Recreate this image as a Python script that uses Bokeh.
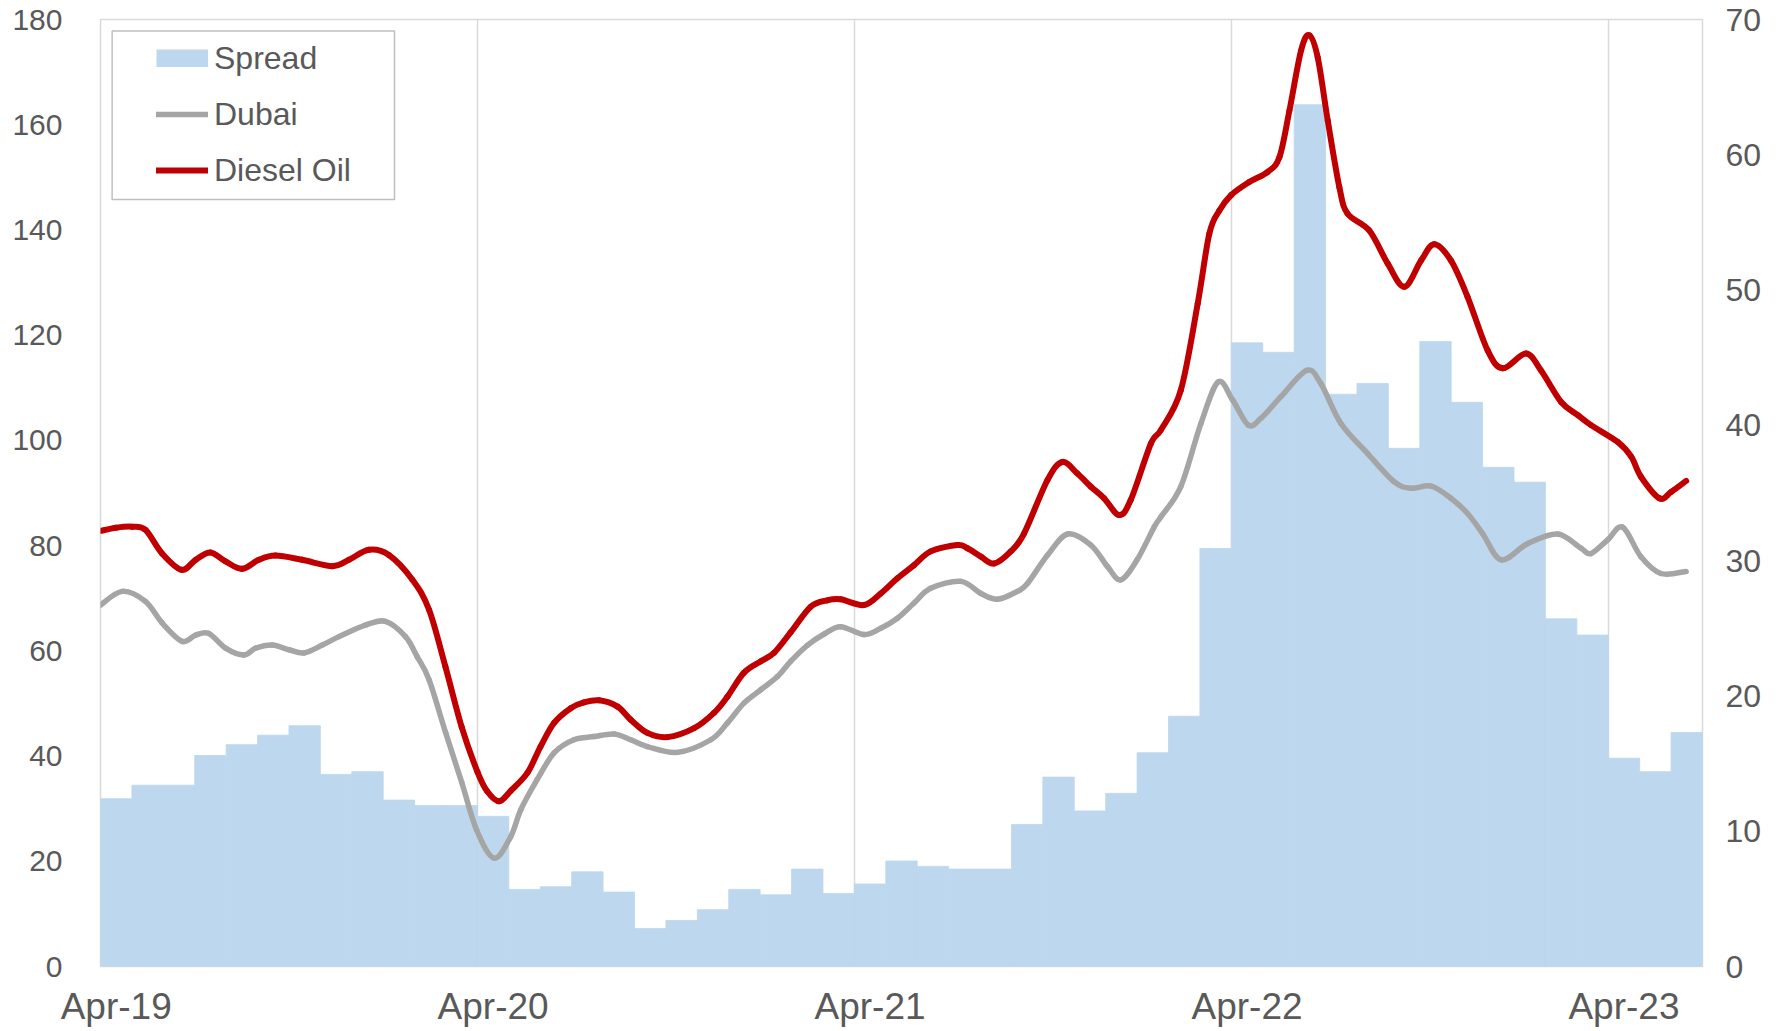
from bokeh.plotting import figure
from bokeh.models import (Range1d, LinearAxis, FixedTicker, Legend, LegendItem,
                          BoxAnnotation)
from bokeh.embed import file_html
from bokeh.resources import INLINE

# ---------------- data ----------------
x_tick_labels = ["Apr-19", "Apr-20", "Apr-21", "Apr-22", "Apr-23"]

# Monthly Diesel-Dubai spread ($/bbl, right axis), Apr-19 .. Jun-23
spread = [12.4, 13.4, 13.4, 15.6, 16.4, 17.1, 17.8, 14.2, 14.4, 12.3, 11.9, 11.9,
          11.1, 5.7, 5.9, 7.0, 5.5, 2.8, 3.4, 4.2, 5.7, 5.3, 7.2, 5.4,
          6.1, 7.8, 7.4, 7.2, 7.2, 10.5, 14.0, 11.5, 12.8, 15.8, 18.5, 30.9,
          46.1, 45.4, 63.7, 42.3, 43.1, 38.3, 46.2, 41.7, 36.9, 35.8, 25.7, 24.5,
          15.4, 14.4, 17.3]

# Diesel oil price ($/bbl, left axis); time in months since start of Apr-19
diesel_t = [0.00, 0.50, 1.00, 1.43, 1.96, 2.58, 3.03, 3.50, 3.98, 4.51, 5.04, 5.57,
            6.42, 7.38, 7.91, 8.55, 9.18, 9.93, 10.46, 10.98, 11.50, 12.00, 12.31,
            12.69, 13.06, 13.59, 14.00, 14.44, 14.97, 15.39, 15.87, 16.46, 16.88,
            17.41, 18.05, 18.90, 19.53, 19.96, 20.48, 21.02, 21.44, 21.97, 22.61,
            23.14, 23.56, 24.30, 24.84, 25.37, 25.90, 26.43, 27.28, 27.60, 28.03,
            28.45, 28.98, 29.40, 30.15, 30.62, 31.10, 31.53, 31.95, 32.43, 32.80,
            33.44, 33.76, 34.39, 34.93, 35.30, 35.62, 35.99, 36.57, 37.15, 37.53,
            37.85, 38.22, 38.48, 38.75, 39.07, 39.44, 39.70, 40.39, 40.98, 41.51,
            42.04, 42.46, 42.99, 43.52, 44.16, 44.64, 45.38, 45.86, 46.50, 47.03,
            47.45, 48.30, 48.73, 49.04, 49.63, 50.00, 50.48]
diesel = [82.8, 83.4, 83.6, 83.0, 78.5, 75.4, 77.3, 78.7, 77.0, 75.6, 77.3, 78.1,
          77.3, 76.1, 77.3, 79.2, 78.2, 73.5, 67.8, 57.0, 45.5, 37.0, 33.3,
          31.4, 33.4, 36.8, 41.7, 46.3, 49.1, 50.2, 50.6, 49.4, 46.9,
          44.4, 43.6, 45.3, 48.2, 51.3, 55.8, 58.0, 59.6, 63.5, 68.4,
          69.6, 69.8, 68.7, 70.9, 73.8, 76.3, 78.9, 80.1, 79.5, 77.9,
          76.6, 78.9, 82.3, 92.5, 95.9, 93.7, 91.2, 89.0, 85.8, 88.7,
          99.4, 102.0, 109.5, 126.0, 139.3, 143.7, 146.6, 149.1, 151.0, 153.8,
          162.7, 174.1, 177.0, 172.8, 160.8, 148.1, 143.1, 139.9, 133.6, 129.2,
          134.2, 137.3, 134.2, 127.3, 117.1, 113.7, 116.5, 113.3, 107.3, 104.8,
          102.9, 99.7, 96.9, 93.1, 89.0, 90.2, 92.3]

# Dubai crude price ($/bbl, left axis)
dubai_t = [0.00, 0.69, 1.43, 1.96, 2.60, 3.03, 3.45, 3.98, 4.56, 4.94, 5.47, 6.00,
           6.48, 7.06, 7.59, 8.43, 9.07, 9.71, 10.08, 10.46, 10.99, 11.50, 11.97,
           12.53, 13.06, 13.38, 13.90, 14.44, 15.07, 15.71, 16.35, 16.88, 17.41,
           18.37, 19.43, 19.96, 20.49, 21.02, 21.55, 21.97, 22.51, 23.04, 23.56,
           24.30, 24.84, 25.37, 25.90, 26.43, 27.39, 28.03, 28.56, 29.19, 29.51,
           30.15, 30.79, 31.53, 32.06, 32.48, 33.00, 33.55, 33.76, 34.39, 35.03,
           35.58, 36.04, 36.54, 36.94, 37.58, 38.40, 38.85, 39.49, 40.34, 41.19,
           41.72, 42.36, 42.99, 43.52, 44.00, 44.59, 45.44, 46.39, 47.13, 47.45,
           47.98, 48.46, 49.04, 49.68, 50.48]
dubai = [68.7, 71.3, 69.4, 65.3, 61.8, 63.0, 63.3, 60.5, 59.2, 60.5, 61.1, 60.2,
         59.6, 61.1, 62.7, 64.9, 65.6, 62.7, 58.9, 54.5, 44.4, 35.0, 26.0,
         20.6, 24.7, 29.8, 35.5, 40.6, 43.1, 43.7, 44.2, 43.1, 41.8,
         40.7, 43.1, 46.3, 50.1, 52.6, 55.1, 58.0, 61.1, 63.2, 64.6,
         63.1, 64.3, 66.2, 69.1, 71.9, 73.2, 70.9, 69.8, 71.3, 72.8,
         78.2, 82.2, 80.1, 76.0, 73.5, 77.3, 83.6, 85.5, 91.2, 103.2,
         111.1, 107.7, 102.9, 104.2, 108.3, 113.3, 110.8, 103.2, 97.5, 92.1,
         90.9, 91.3, 89.0, 86.1, 82.3, 77.3, 80.4, 82.2, 79.5, 78.5,
         81.1, 83.5, 77.9, 74.7, 75.1]

# ---------------- styling ----------------
FONT = "Liberation Sans"
TXT = "#595959"
GRID = "#D9D9D9"
BAR = "#BDD7EE"
RED = "#C00000"
GREY = "#A5A5A5"
RED_W = 6
GREY_W = 5.5

n_months = len(spread)
year_starts = list(range(0, n_months, 12))           # Apr of each year
label_pos = [m + 0.5 for m in year_starts]           # labels centred on April


def smooth_segments(ts, vs):
    """Bezier pieces through every data point (Excel-style smoothed line)."""
    n = len(ts)
    seg = dict(x0=[], y0=[], x1=[], y1=[], cx0=[], cy0=[], cx1=[], cy1=[])
    for i in range(n - 1):
        a = max(i - 1, 0)
        d = min(i + 2, n - 1)
        seg["x0"].append(ts[i])
        seg["y0"].append(vs[i])
        seg["x1"].append(ts[i + 1])
        seg["y1"].append(vs[i + 1])
        seg["cx0"].append(ts[i] + (ts[i + 1] - ts[a]) / 6.0)
        seg["cy0"].append(vs[i] + (vs[i + 1] - vs[a]) / 6.0)
        seg["cx1"].append(ts[i + 1] - (ts[d] - ts[i]) / 6.0)
        seg["cy1"].append(vs[i + 1] - (vs[d] - vs[i]) / 6.0)
    return seg


p = figure(width=1777, height=1029, output_backend="svg", toolbar_location=None,
           x_range=Range1d(0, n_months), y_range=Range1d(0, 180),
           min_border_left=100, min_border_right=75, min_border_top=19,
           min_border_bottom=60)
p.extra_y_ranges = {"spread": Range1d(0, 70)}
p.outline_line_color = GRID
p.outline_line_width = 1.5
p.background_fill_color = "white"
p.border_fill_color = "white"

month_left = list(range(n_months))
month_right = [m + 1 for m in month_left]
p.quad(left=month_left, right=month_right, bottom=0, top=spread,
       y_range_name="spread", fill_color=BAR, line_color=BAR, line_width=0.8)

p.bezier(line_color=GREY, line_width=GREY_W, line_cap="round",
         **smooth_segments(dubai_t, dubai))
p.bezier(line_color=RED, line_width=RED_W, line_cap="round",
         **smooth_segments(diesel_t, diesel))

# legend keys (drawn below the visible range; they only show in the legend)
key_spread = p.line(x=[0, 1], y=[-50, -50], line_color=BAR, line_width=18, line_cap="butt")
key_dubai = p.line(x=[0, 1], y=[-50, -50], line_color=GREY, line_width=GREY_W, line_cap="round")
key_diesel = p.line(x=[0, 1], y=[-50, -50], line_color=RED, line_width=RED_W, line_cap="round")

# x axis
xa = p.xaxis[0]
xa.ticker = FixedTicker(ticks=label_pos)
xa.major_label_overrides = {pos: lab for pos, lab in zip(label_pos, x_tick_labels)}
xa.major_label_standoff = 13

# left axis
ya = p.yaxis[0]
ya.ticker = FixedTicker(ticks=list(range(0, 181, 20)))
ya.major_label_standoff = 32

# right axis
ra = LinearAxis(y_range_name="spread", ticker=FixedTicker(ticks=list(range(0, 71, 10))))
ra.major_label_standoff = 17
p.add_layout(ra, "right")

for ax in [xa, ya, ra]:
    ax.axis_line_color = None
    ax.major_tick_line_color = None
    ax.minor_tick_line_color = None
    ax.major_label_text_color = TXT
    ax.major_label_text_font = FONT
xa.major_label_text_font_size = "37px"
ya.major_label_text_font_size = "30px"
ra.major_label_text_font_size = "32px"

p.xgrid.ticker = FixedTicker(ticks=year_starts)
p.xgrid.grid_line_color = GRID
p.xgrid.grid_line_width = 1.5
p.ygrid.grid_line_color = None

# legend frame + legend
box = BoxAnnotation(left=0.37, right=9.36, bottom=145.8, top=177.8,
                    fill_color="white", fill_alpha=1.0,
                    line_color="#BFBFBF", line_width=1.5, line_alpha=1.0)
p.add_layout(box)

legend = Legend(items=[LegendItem(label="Spread", renderers=[key_spread]),
                       LegendItem(label="Dubai", renderers=[key_dubai]),
                       LegendItem(label="Diesel Oil", renderers=[key_diesel])],
                location=(56, 776), padding=0, margin=0, spacing=16,
                glyph_width=52, glyph_height=18, label_height=40,
                label_standoff=6, border_line_color=None,
                background_fill_alpha=0.0,
                label_text_font=FONT, label_text_font_size="32px",
                label_text_color=TXT)
p.add_layout(legend)

open("out.html", "w").write(file_html(p, INLINE))
